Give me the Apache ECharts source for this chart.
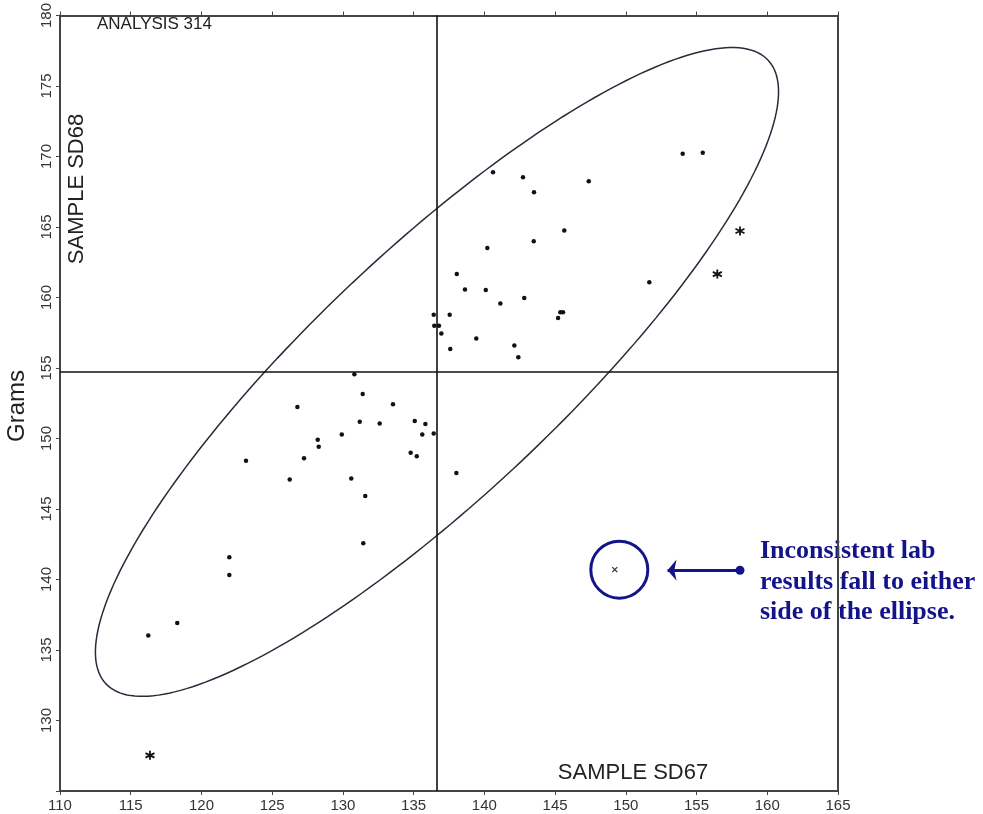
<!DOCTYPE html>
<html>
<head>
<meta charset="utf-8">
<script src="https://cdn.jsdelivr.net/npm/echarts@6/dist/echarts.min.js"></script>
<style>html,body{margin:0;padding:0;background:#fff;}#chart{width:983px;height:814px;}</style>
</head>
<body>
<div id="chart"></div>
<script>
// ---- data ----
const xTickMin = 110, xTickMax = 165, tickStep = 5;
const yTickMin = 125, yTickMax = 180;

const sampleX = [140.61,142.73,143.51,147.38,154.02,155.44,145.65,143.49,140.21,138.05,138.63,140.10,142.82,141.13,151.66,136.42,137.55,136.46,136.79,136.96,145.37,145.56,145.21,139.43,137.59,142.12,142.40,
  130.81,131.40,126.78,133.54,131.19,132.60,135.08,135.83,135.61,136.42,129.92,128.22,128.29,127.25,123.15,134.79,135.22,126.24,130.59,131.58,138.02,131.44,121.97,121.97,118.29,116.24];
const sampleY = [168.88,168.53,167.47,168.24,170.20,170.27,164.75,163.99,163.52,161.66,160.56,160.54,159.97,159.57,161.08,158.77,158.77,158.00,158.00,157.45,158.96,158.96,158.54,157.10,156.35,156.59,155.76,
  154.56,153.15,152.24,152.43,151.18,151.07,151.25,151.02,150.29,150.36,150.29,149.91,149.42,148.60,148.43,148.99,148.74,147.09,147.16,145.92,147.56,142.57,141.57,140.32,136.91,136.02];

const outlierX = [158.07,156.47,116.36];
const outlierY = [164.72,161.66,127.53];

const flaggedX = [149.22];
const flaggedY = [140.70];
const circleX = [149.54];
const circleY = [140.70];

const meanX = 136.65;   // vertical reference line
const meanY = 154.72;   // horizontal reference line

// ellipse parameters (data units)
const ellCenter = [136.65, 154.72];
const ellSemiMajor = 32.2, ellSemiMinor = 8.7, ellAngleDeg = 43.4;

const arrowFrom = [158.07, 140.66];
const arrowTo = [152.95, 140.66];

const noteLines = ['Inconsistent lab', 'results fall to either', 'side of the ellipse.'];

// ---- build ----
const samples = sampleX.map((x, i) => [x, sampleY[i]]);
const outliers = outlierX.map((x, i) => [x, outlierY[i]]);
const flagged = flaggedX.map((x, i) => [x, flaggedY[i]]);
const circ = circleX.map((x, i) => [x, circleY[i]]);

const ell = [];
const th = ellAngleDeg * Math.PI / 180;
for (let k = 0; k <= 240; k++) {
  const t = 2 * Math.PI * k / 240;
  const u = ellSemiMajor * Math.cos(t), v = ellSemiMinor * Math.sin(t);
  ell.push([ellCenter[0] + u * Math.cos(th) - v * Math.sin(th), ellCenter[1] + u * Math.sin(th) + v * Math.cos(th)]);
}

const navy = '#14148a';
const axisCol = '#444';
const font = 'Liberation Sans, Arial, sans-serif';
const serif = 'Liberation Serif, Times New Roman, serif';
const star = 'path://M0,-5L0,5M-4.33,-2.5L4.33,2.5M-4.33,2.5L4.33,-2.5M-0.01,-5L0.01,5';
const cross = 'path://M-3,-3L3,3M-3,3L3,-3';

const chart = echarts.init(document.getElementById('chart'), null, {renderer: 'canvas'});
chart.setOption({
  animation: false,
  backgroundColor: '#fff',
  grid: {left: 60, right: 145, top: 11, bottom: 23, containLabel: false},
  xAxis: [{
    type: 'value', min: xTickMin, max: xTickMax, interval: tickStep,
    axisLine: {show: true, onZero: false, lineStyle: {color: axisCol, width: 2}},
    axisTick: {show: true, inside: false, length: 4, lineStyle: {color: axisCol, width: 1}},
    axisLabel: {color: '#333', fontFamily: font, fontSize: 15, margin: 7},
    splitLine: {show: false}
  }, {
    type: 'value', position: 'top', min: xTickMin, max: xTickMax, interval: tickStep,
    axisLine: {show: true, onZero: false, lineStyle: {color: axisCol, width: 2}},
    axisTick: {show: true, inside: false, length: 4, lineStyle: {color: axisCol, width: 1}},
    axisLabel: {show: false}, splitLine: {show: false}
  }],
  yAxis: [{
    type: 'value', min: yTickMin, max: yTickMax, interval: tickStep,
    axisLine: {show: true, onZero: false, lineStyle: {color: axisCol, width: 2}},
    axisTick: {show: true, inside: false, length: 4, lineStyle: {color: axisCol, width: 1}},
    axisLabel: {color: '#333', fontFamily: font, fontSize: 15, rotate: 90, margin: 6,
      formatter: v => v === yTickMin ? '' : String(v)},
    splitLine: {show: false}
  }, {
    type: 'value', position: 'right', min: yTickMin, max: yTickMax, interval: tickStep,
    axisLine: {show: true, onZero: false, lineStyle: {color: axisCol, width: 2}},
    axisTick: {show: false}, axisLabel: {show: false}, splitLine: {show: false}
  }],
  series: [
    {
      type: 'line', name: 'ellipse', data: ell, showSymbol: false, smooth: false, silent: true,
      lineStyle: {color: '#2a2a3a', width: 1.5}, z: 2,
      markLine: {
        silent: true, symbol: ['none', 'none'], label: {show: false},
        lineStyle: {color: '#111', width: 1.6, type: 'solid'},
        data: [{xAxis: meanX}, {yAxis: meanY}]
      }
    },
    {
      type: 'scatter', name: 'samples', data: samples, symbol: 'circle', symbolSize: 4.5,
      itemStyle: {color: '#111', opacity: 1}, z: 3
    },
    {
      type: 'scatter', name: 'outliers', data: outliers, symbol: star, symbolSize: 9,
      itemStyle: {color: '#111', borderColor: '#111', borderWidth: 1.8, opacity: 1}, z: 3
    },
    {
      type: 'scatter', name: 'flagged', data: flagged, symbol: cross, symbolSize: 5,
      itemStyle: {color: '#333', borderColor: '#333', borderWidth: 1.3, opacity: 1}, z: 3
    },
    {
      type: 'scatter', name: 'circle', data: circ, symbol: 'circle', symbolSize: 57,
      itemStyle: {color: 'rgba(0,0,0,0)', borderColor: navy, borderWidth: 3, opacity: 1}, z: 3,
      markLine: {
        silent: true, symbol: ['arrow', 'circle'], symbolSize: [16, 9], label: {show: false},
        lineStyle: {color: navy, width: 3, type: 'solid', opacity: 1},
        data: [[{coord: arrowTo}, {coord: arrowFrom}]]
      }
    }
  ],
  graphic: [
    {type: 'text', left: 97, top: 16, style: {text: 'ANALYSIS 314', font: '17px ' + font, fill: '#222'}},
    {type: 'text', x: 17, y: 406, rotation: Math.PI / 2, style: {text: 'Grams', font: '24px ' + font, fill: '#222', align: 'center', verticalAlign: 'middle'}},
    {type: 'text', x: 77, y: 189, rotation: Math.PI / 2, style: {text: 'SAMPLE SD68', font: '22px ' + font, fill: '#222', align: 'center', verticalAlign: 'middle'}},
    {type: 'text', x: 633, y: 773, style: {text: 'SAMPLE SD67', font: '22px ' + font, fill: '#222', align: 'center', verticalAlign: 'middle'}},
    {type: 'text', x: 760, y: 551, style: {text: noteLines[0], font: 'bold 26px ' + serif, fill: navy, verticalAlign: 'middle'}},
    {type: 'text', x: 760, y: 582, style: {text: noteLines[1], font: 'bold 26px ' + serif, fill: navy, verticalAlign: 'middle'}},
    {type: 'text', x: 760, y: 612, style: {text: noteLines[2], font: 'bold 26px ' + serif, fill: navy, verticalAlign: 'middle'}}
  ]
});
</script>
</body>
</html>
